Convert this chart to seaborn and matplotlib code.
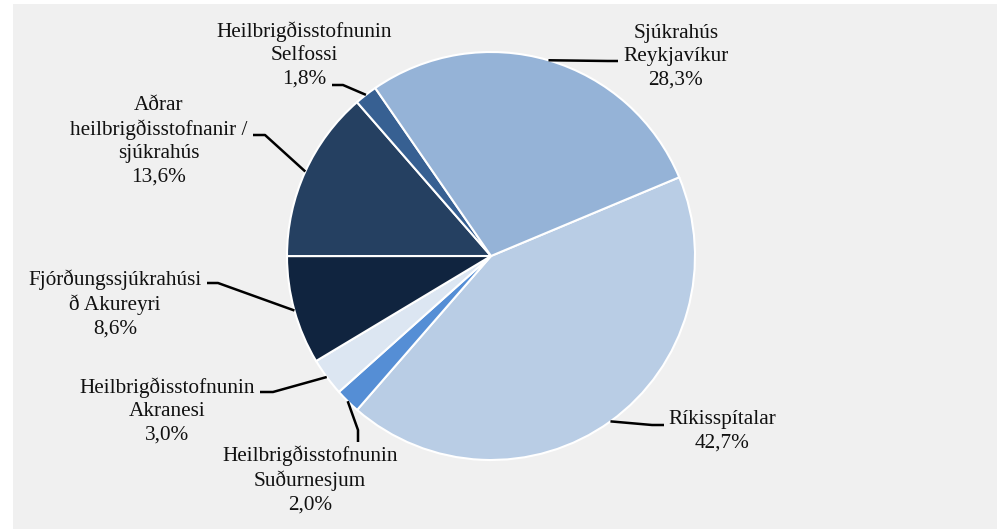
import numpy as np
import matplotlib.pyplot as plt
import seaborn as sns
from matplotlib.patches import Rectangle

sns.set_style("white")
plt.rcParams['font.family'] = ['Liberation Serif', 'DejaVu Serif']

labels = ["Ríkisspítalar", "Heilbrigðisstofnunin\nSuðurnesjum", "Heilbrigðisstofnunin\nAkranesi",
          "Fjórðungssjúkrahúsi\nð Akureyri", "Aðrar\nheilbrigðisstofnanir /\nsjúkrahús",
          "Heilbrigðisstofnunin\nSelfossi", "Sjúkrahús\nReykjavíkur"]
shares = [42.7, 2.0, 3.0, 8.6, 13.6, 1.8, 28.3]
colors = ["#B9CDE5", "#558ED5", "#DCE6F2", "#10243F", "#254061", "#376092", "#95B3D7"]

W, H = 1002, 529
# label layout in pixels from the top-left corner
text_xy = [(722, 431), (310, 480), (167, 411), (115, 304), (159, 141), (304, 55), (676, 57)]
elbow_xy = [(652, 425), (358, 430), (273, 392), (218, 283), (265, 135), (343, 85), (608, 61)]
end_xy = [(664, 425), (358, 442), (260, 392), (207, 283), (253, 135), (332, 85), (618, 61)]

fig = plt.figure(figsize=(W / 100, H / 100), dpi=100)
fig.patch.set_facecolor("white")
fig.add_artist(Rectangle((13 / W, 0), (997 - 13) / W, (H - 4) / H, transform=fig.transFigure,
                         facecolor="#F0F0F0", edgecolor="none", zorder=-1))
ax = fig.add_axes([0, 0, 1, 1])
ax.set_facecolor("none")

cx, cy, r = 491, H - 256, 204
wedges, _ = ax.pie(shares, colors=colors, startangle=22.7, counterclock=False,
                   center=(cx, cy), radius=r,
                   wedgeprops=dict(edgecolor="white", linewidth=1.5))

for i, w in enumerate(wedges):
    mid = np.deg2rad((w.theta1 + w.theta2) / 2)
    px, py = cx + r * np.cos(mid), cy + r * np.sin(mid)
    ex, ey = elbow_xy[i]
    hx, hy = end_xy[i]
    ax.plot([px, ex, hx], [py, H - ey, H - hy], color="black", lw=1.8, solid_capstyle="butt")
    pct = f"{shares[i]:.1f}%".replace(".", ",")
    tx, ty = text_xy[i]
    ax.text(tx, H - ty, labels[i] + "\n" + pct, ha="center", va="center",
            fontsize=15.3, linespacing=1.3, color="#111111")

ax.set_xlim(0, W)
ax.set_ylim(0, H)
ax.set_aspect("equal")
ax.axis("off")

fig.savefig("out.png", dpi=100, facecolor=fig.get_facecolor())
